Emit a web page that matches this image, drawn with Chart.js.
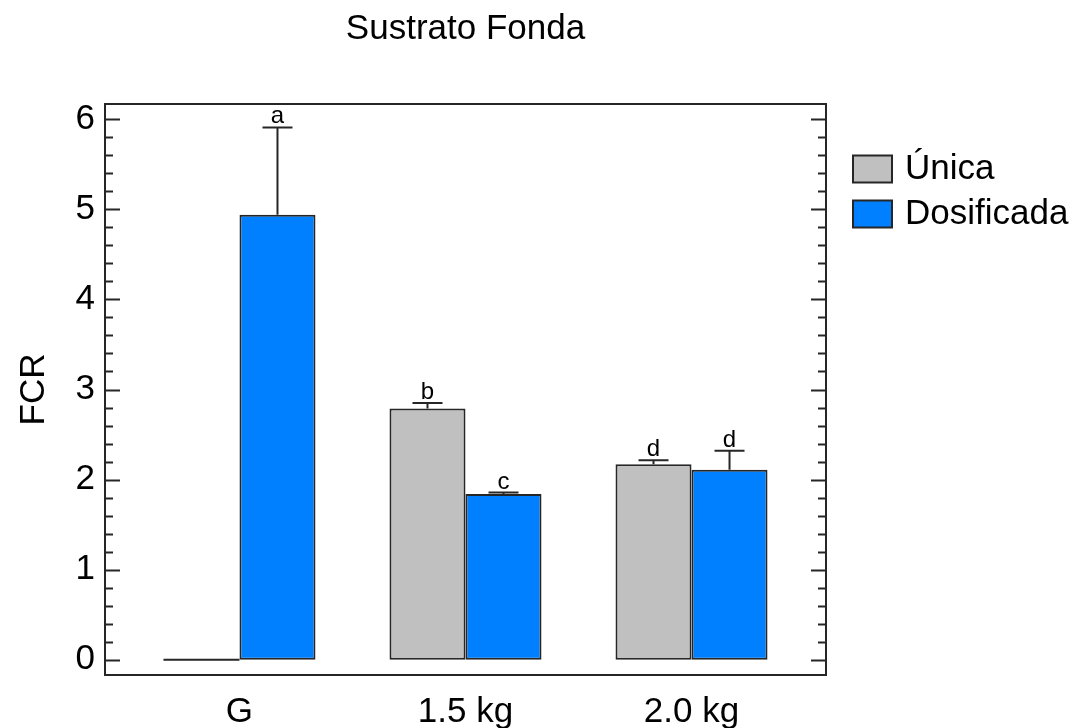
<!DOCTYPE html>
<html>
<head>
<meta charset="utf-8">
<script src="https://cdn.jsdelivr.net/npm/chart.js@4"></script>
<style>
  html, body { margin: 0; padding: 0; background: #fff; }
  #wrap { width: 1083px; height: 728px; position: relative; }
</style>
</head>
<body>
<div id="wrap"><canvas id="c" width="1083" height="728"></canvas></div>
<script>
// FCR by substrate dose, single vs. dosed application
const categories = ['G', '1.5 kg', '2.0 kg'];
const seriesNames = ['Única', 'Dosificada'];
const unica = [0, 2.79, 2.17];
const dosificada = [4.94, 1.84, 2.11];
const unicaErr = [null, 0.06, 0.045];
const dosificadaErr = [0.97, 0.015, 0.21];
const unicaLetters = ['', 'b', 'd'];
const dosificadaLetters = ['a', 'c', 'd'];
const yTicks = [0, 1, 2, 3, 4, 5, 6];
const chartTitle = 'Sustrato Fonda';
const yTitle = 'FCR';

const FONT = '"Liberation Sans", Arial, sans-serif';
const INK = '#262626';
const COLORS = ['#c0c0c0', '#0080ff'];
const errs = [unicaErr, dosificadaErr];
const letters = [unicaLetters, dosificadaLetters];

const decor = {
  id: 'decor',
  afterDatasetsDraw(chart) {
    const ctx = chart.ctx;
    const y = chart.scales.y;
    ctx.save();
    ctx.strokeStyle = INK;
    ctx.fillStyle = '#000';
    chart.data.datasets.forEach((ds, di) => {
      const meta = chart.getDatasetMeta(di);
      meta.data.forEach((el, i) => {
        const v = ds.data[i].y;
        // zero-height bar shown as a flat line on the baseline
        if (v === 0) {
          ctx.lineWidth = 2;
          ctx.beginPath();
          ctx.moveTo(el.x - el.width / 2, el.y);
          ctx.lineTo(el.x + el.width / 2, el.y);
          ctx.stroke();
        }
        const e = errs[di][i];
        if (e == null) return;
        const top = y.getPixelForValue(v + e);
        ctx.lineWidth = 2;
        ctx.beginPath();
        ctx.moveTo(el.x, el.y);
        ctx.lineTo(el.x, top);
        ctx.moveTo(el.x - 15, top);
        ctx.lineTo(el.x + 15, top);
        ctx.stroke();
        const t = letters[di][i];
        if (t) {
          ctx.font = '24px ' + FONT;
          ctx.textAlign = 'center';
          ctx.textBaseline = 'alphabetic';
          ctx.fillText(t, el.x, top - 4);
        }
      });
    });
    ctx.restore();
  },
  afterDraw(chart) {
    const ctx = chart.ctx;
    const a = chart.chartArea;
    const y = chart.scales.y;
    ctx.save();
    // frame
    ctx.strokeStyle = INK;
    ctx.lineWidth = 2;
    ctx.strokeRect(a.left, a.top, a.right - a.left, a.bottom - a.top);
    // inward ticks on left and right edges
    ctx.lineWidth = 2;
    ctx.beginPath();
    for (let k = 0; k <= 30; k++) {
      const val = k / 5;
      const py = Math.round(y.getPixelForValue(val)) + 0.5;
      const len = (k % 5 === 0) ? 15 : 8;
      ctx.moveTo(a.left, py); ctx.lineTo(a.left + len, py);
      ctx.moveTo(a.right, py); ctx.lineTo(a.right - len, py);
    }
    ctx.stroke();
    // title
    ctx.fillStyle = '#000';
    ctx.font = '35px ' + FONT;
    ctx.textAlign = 'center';
    ctx.textBaseline = 'middle';
    ctx.fillText(chartTitle, (a.left + a.right) / 2, 29);
    // y-axis title
    ctx.save();
    ctx.translate(34, (a.top + a.bottom) / 2);
    ctx.rotate(-Math.PI / 2);
    ctx.fillText(yTitle, 0, 0);
    ctx.restore();
    // legend
    ctx.textAlign = 'left';
    seriesNames.forEach((name, i) => {
      const cy = 169 + i * 45;
      ctx.fillStyle = COLORS[i];
      ctx.fillRect(853, cy - 13.5, 39, 27);
      ctx.strokeStyle = INK;
      ctx.lineWidth = 2;
      ctx.strokeRect(853, cy - 13.5, 39, 27);
      ctx.fillStyle = '#000';
      ctx.fillText(name, 905, cy);
    });
    ctx.restore();
  }
};

const mk = (arr, i) => ({
  label: seriesNames[i],
  data: arr.map((v, k) => ({ x: k + 1, y: v })),
  backgroundColor: COLORS[i],
  borderColor: INK,
  borderWidth: 2,
  borderSkipped: false,
  categoryPercentage: 0.6726,
  barPercentage: 1.0
});

new Chart(document.getElementById('c'), {
  type: 'bar',
  data: { datasets: [mk(unica, 0), mk(dosificada, 1)] },
  options: {
    responsive: false,
    animation: false,
    devicePixelRatio: 1,
    layout: { padding: { left: 0, top: 104, right: 257, bottom: 0 } },
    plugins: { legend: { display: false }, title: { display: false }, tooltip: { enabled: false } },
    scales: {
      x: {
        type: 'linear', min: 0.405, max: 3.595, offset: false,
        grid: { display: false, drawTicks: false },
        border: { display: false },
        ticks: {
          color: '#000', padding: 16, font: { family: FONT, size: 35 },
          callback: v => categories[v - 1] ?? ''
        },
        afterBuildTicks: s => { s.ticks = categories.map((_, i) => ({ value: i + 1 })); },
        afterFit: s => { s.height = 53; }
      },
      y: {
        min: -0.17, max: 6.17,
        grid: { display: false, drawTicks: false },
        border: { display: false },
        ticks: { color: '#000', padding: 10, font: { family: FONT, size: 35 } },
        afterBuildTicks: s => { s.ticks = yTicks.map(v => ({ value: v })); },
        afterFit: s => { s.width = 105; }
      }
    }
  },
  plugins: [decor]
});
</script>
</body>
</html>
